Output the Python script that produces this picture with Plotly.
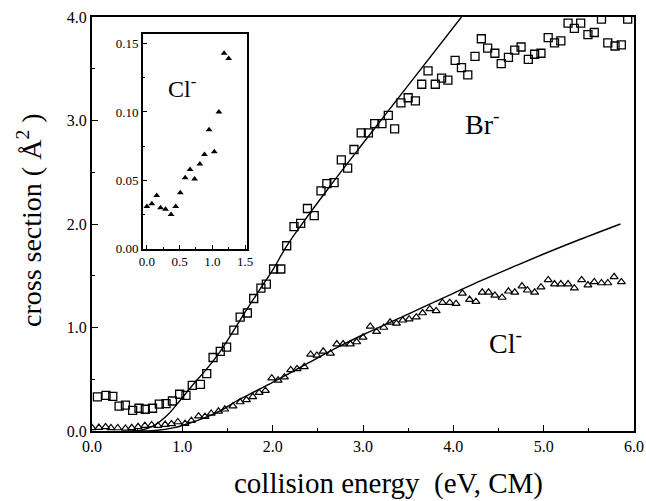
import plotly.graph_objects as go

# ---------------- data ----------------
br_x = [0.06, 0.155, 0.23, 0.30, 0.37, 0.45, 0.52, 0.59, 0.67, 0.745, 0.82, 0.89, 0.97, 1.04,
        1.11, 1.20, 1.27, 1.34, 1.42, 1.49, 1.57, 1.64, 1.72, 1.79, 1.87, 1.93, 2.01, 2.09,
        2.155, 2.236, 2.31, 2.385, 2.46, 2.535, 2.60, 2.68, 2.76, 2.83, 2.90, 2.98, 3.06, 3.13,
        3.21, 3.28, 3.35, 3.42, 3.50, 3.58, 3.65, 3.72, 3.80, 3.87, 3.94, 4.02, 4.09, 4.16,
        4.24, 4.31, 4.38, 4.46, 4.53, 4.61, 4.68, 4.75, 4.83, 4.90, 4.97, 5.05, 5.12, 5.19,
        5.27, 5.34, 5.41, 5.49, 5.56, 5.64, 5.71, 5.79, 5.86, 5.93]
br_y = [0.33, 0.345, 0.335, 0.24, 0.25, 0.20, 0.22, 0.21, 0.22, 0.26, 0.265, 0.29, 0.355, 0.345,
        0.44, 0.45, 0.555, 0.71, 0.77, 0.81, 0.975, 1.10, 1.14, 1.28, 1.38, 1.42, 1.565, 1.565,
        1.79, 1.974, 2.006, 2.15, 2.08, 2.32, 2.39, 2.40, 2.62, 2.54, 2.72, 2.88, 2.88, 2.97,
        2.97, 3.05, 2.92, 3.17, 3.22, 3.19, 3.35, 3.48, 3.35, 3.41, 3.39, 3.58, 3.51, 3.44,
        3.62, 3.79, 3.70, 3.65, 3.55, 3.61, 3.68, 3.71, 3.59, 3.64, 3.65, 3.80, 3.75, 3.77,
        3.94, 3.89, 3.94, 3.83, 3.85, 3.98, 3.75, 3.72, 3.73, 3.98]

cl_x = [0.0, 0.076, 0.15, 0.21, 0.285, 0.37, 0.44, 0.51, 0.585, 0.66, 0.73, 0.81, 0.88, 0.95,
        1.03, 1.10, 1.18, 1.25, 1.32, 1.40, 1.47, 1.56, 1.64, 1.71, 1.78, 1.85, 1.92, 1.99,
        2.06, 2.13, 2.20, 2.27, 2.35, 2.42, 2.49, 2.56, 2.64, 2.71, 2.78, 2.86, 2.93, 3.00,
        3.08, 3.15, 3.23, 3.30, 3.37, 3.44, 3.51, 3.59, 3.66, 3.74, 3.81, 3.88, 3.96, 4.03,
        4.10, 4.18, 4.25, 4.32, 4.39, 4.46, 4.54, 4.61, 4.68, 4.76, 4.82, 4.90, 4.97, 5.05,
        5.12, 5.19, 5.27, 5.34, 5.42, 5.49, 5.56, 5.64, 5.71, 5.78, 5.86]
cl_y = [0.031, 0.033, 0.039, 0.030, 0.029, 0.025, 0.031, 0.041, 0.052, 0.058, 0.051, 0.062,
        0.069, 0.087, 0.071, 0.100, 0.143, 0.139, 0.17, 0.19, 0.21, 0.24, 0.28, 0.30, 0.33,
        0.37, 0.39, 0.51, 0.49, 0.52, 0.59, 0.60, 0.62, 0.74, 0.73, 0.77, 0.75, 0.84, 0.84,
        0.84, 0.86, 0.905, 1.01, 0.96, 1.00, 1.05, 1.04, 1.07, 1.08, 1.10, 1.14, 1.18, 1.16,
        1.24, 1.24, 1.23, 1.33, 1.27, 1.25, 1.34, 1.34, 1.31, 1.29, 1.35, 1.34, 1.40, 1.36,
        1.34, 1.39, 1.46, 1.42, 1.42, 1.42, 1.38, 1.46, 1.41, 1.44, 1.43, 1.43, 1.49, 1.44]

br_fit_x = [0.40, 0.55, 0.68, 0.83, 0.97, 1.12, 1.27, 1.42, 1.56, 1.71, 1.86, 2.01, 2.15,
            2.30, 2.63, 3.00, 3.50, 4.09]
br_fit_y = [0.0, 0.01, 0.05, 0.15, 0.29, 0.45, 0.60, 0.77, 0.96, 1.17, 1.37, 1.57, 1.78,
            1.97, 2.36, 2.78, 3.34, 4.00]

cl_fit_x = [0.45, 0.70, 0.90, 1.06, 1.25, 1.43, 1.60, 1.80, 2.00, 2.17, 2.40, 2.70, 3.00,
            3.50, 4.00, 4.30, 4.70, 5.00, 5.40, 5.85]
cl_fit_y = [0.0, 0.005, 0.03, 0.07, 0.13, 0.20, 0.29, 0.38, 0.47, 0.55, 0.66, 0.80, 0.93,
            1.13, 1.33, 1.45, 1.60, 1.71, 1.85, 2.00]

inset_n = 18
inset_x = cl_x[:inset_n]
inset_y = cl_y[:inset_n]

x_ticks = [0, 1, 2, 3, 4, 5, 6]
y_ticks = [0, 1, 2, 3, 4]

# ---------------- figure ----------------
SERIF = "Liberation Serif, Times New Roman, serif"
fig = go.Figure()

fig.add_trace(go.Scatter(x=br_fit_x, y=br_fit_y, mode="lines", line=dict(color="black", width=1.4, shape="spline"),
                         xaxis="x", yaxis="y", showlegend=False))
fig.add_trace(go.Scatter(x=cl_fit_x, y=cl_fit_y, mode="lines", line=dict(color="black", width=1.4, shape="spline"),
                         xaxis="x", yaxis="y", showlegend=False))
fig.add_trace(go.Scatter(x=br_x, y=br_y, mode="markers",
                         marker=dict(symbol="square-open", size=8, color="black", line=dict(width=1.3)),
                         xaxis="x", yaxis="y", showlegend=False))
fig.add_trace(go.Scatter(x=cl_x, y=cl_y, mode="markers",
                         marker=dict(symbol="triangle-up-open", size=7, color="black", line=dict(width=1.2)),
                         xaxis="x", yaxis="y", showlegend=False))
fig.add_trace(go.Scatter(x=inset_x, y=inset_y, mode="markers",
                         marker=dict(symbol="triangle-up", size=6, color="black"),
                         xaxis="x2", yaxis="y2", showlegend=False))

axis_common = dict(showgrid=False, zeroline=False, showline=True, linecolor="black", mirror=True,
                   ticks="inside", tickcolor="black", automargin=False)

fig.update_layout(
    template="none",
    width=646, height=501,
    margin=dict(l=92, r=12, t=17, b=70, autoexpand=False),
    paper_bgcolor="white", plot_bgcolor="white",
    font=dict(family=SERIF, color="black"),
    xaxis=dict(**axis_common, domain=[0, 1], range=[0, 6], tickvals=x_ticks,
               ticktext=[f"{v:.1f}" for v in x_ticks], ticklen=6, tickwidth=1.2, linewidth=2,
               minor=dict(ticks="inside", ticklen=3, dtick=0.5, tickcolor="black"),
               tickfont=dict(family=SERIF, size=16)),
    yaxis=dict(**axis_common, domain=[0, 1], range=[0, 4], tickvals=y_ticks,
               ticktext=[f"{v:.1f}" for v in y_ticks], ticklen=6, tickwidth=1.2, linewidth=2,
               minor=dict(ticks="inside", ticklen=3, dtick=0.5, tickcolor="black"),
               tickfont=dict(family=SERIF, size=16)),
    xaxis2=dict(**axis_common, domain=[0.094, 0.286], anchor="y2", range=[-0.06, 1.53],
                tickvals=[0, 0.5, 1.0, 1.5], ticktext=["0.0", "0.5", "1.0", "1.5"], ticklen=4,
                linewidth=1.5, minor=dict(ticks="inside", ticklen=2, dtick=0.25, tickcolor="black"),
                tickfont=dict(family=SERIF, size=13)),
    yaxis2=dict(**axis_common, domain=[0.440, 0.959], anchor="x2", range=[0, 0.157],
                tickvals=[0, 0.05, 0.10, 0.15], ticktext=["0.00", "0.05", "0.10", "0.15"], ticklen=4,
                linewidth=1.5, minor=dict(ticks="inside", ticklen=2, dtick=0.025, tickcolor="black"),
                tickfont=dict(family=SERIF, size=13)),
    annotations=[
        dict(text="cross section ( Å<sup>2</sup> )", xref="paper", yref="paper",
             x=(30 - 92) / 542, y=(431 - 220) / 414, textangle=-90, showarrow=False,
             font=dict(family=SERIF, size=28), xanchor="center", yanchor="middle"),
        dict(text="collision energy&nbsp;&nbsp;(eV, CM)", xref="paper", yref="paper",
             x=(388 - 92) / 542, y=(431 - 483) / 414, showarrow=False,
             font=dict(family=SERIF, size=29), xanchor="center", yanchor="middle"),
        dict(text="Br<sup>-</sup>", xref="paper", yref="paper",
             x=(482 - 92) / 542, y=(431 - 122) / 414, showarrow=False,
             font=dict(family=SERIF, size=28), xanchor="center", yanchor="middle"),
        dict(text="Cl<sup>-</sup>", xref="paper", yref="paper",
             x=(505 - 92) / 542, y=(431 - 341) / 414, showarrow=False,
             font=dict(family=SERIF, size=28), xanchor="center", yanchor="middle"),
        dict(text="Cl<sup>-</sup>", xref="paper", yref="paper",
             x=(182 - 92) / 542, y=(431 - 87) / 414, showarrow=False,
             font=dict(family=SERIF, size=24), xanchor="center", yanchor="middle"),
    ],
)

# remove the page's default 8px body margin so the figure fills the 646x501 window exactly
fig.write_html("out.html", config={"displayModeBar": False},
               post_script="document.body.style.margin='0px';")
